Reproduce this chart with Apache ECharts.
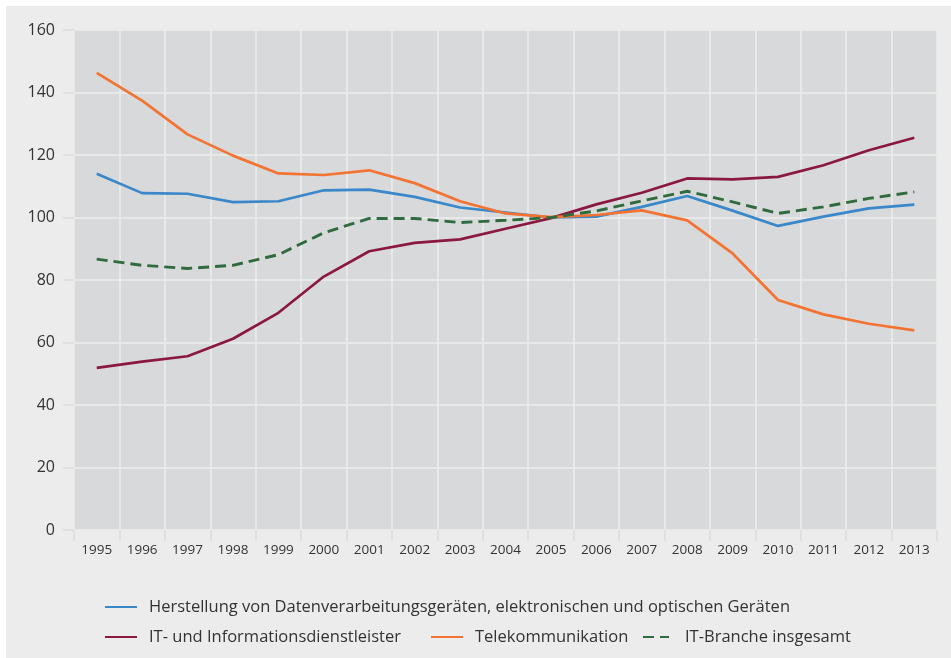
<!DOCTYPE html>
<html>
<head>
<meta charset="utf-8">
<script src="https://cdn.jsdelivr.net/npm/echarts@6/dist/echarts.min.js"></script>
<style>
  body { margin: 0; background: #ffffff; }
  #main { position: absolute; left: 6px; top: 6px; width: 945px; height: 652px; }
</style>
</head>
<body>
<div id="main"></div>
<script>
var years = ['1995', '1996', '1997', '1998', '1999', '2000', '2001', '2002', '2003', '2004',
             '2005', '2006', '2007', '2008', '2009', '2010', '2011', '2012', '2013'];

var herstellung = [114.0, 107.8, 107.6, 104.9, 105.2, 108.7, 108.9, 106.6, 103.2, 101.6,
                   100.0, 100.3, 103.4, 106.9, 102.2, 97.3, 100.3, 102.9, 104.1];
var itDienst = [51.9, 53.9, 55.6, 61.2, 69.5, 81.1, 89.2, 91.9, 93.0, 96.4,
                99.8, 104.2, 107.9, 112.5, 112.2, 113.0, 116.7, 121.5, 125.5];
var telekom = [146.3, 137.4, 126.6, 119.8, 114.1, 113.6, 115.1, 111.0, 105.2, 101.3,
               100.1, 100.8, 102.3, 99.1, 88.5, 73.6, 69.0, 66.0, 63.9];
var gesamt = [86.7, 84.7, 83.7, 84.7, 88.1, 95.1, 99.7, 99.7, 98.4, 99.1,
              100.0, 102.1, 105.3, 108.4, 105.0, 101.3, 103.4, 106.1, 108.2];

var names = [
    'Herstellung von Datenverarbeitungsgeräten, elektronischen und optischen Geräten',
    'IT- und Informationsdienstleister',
    'Telekommunikation',
    'IT-Branche insgesamt'
];

var myChart = echarts.init(document.getElementById('main'));

var fontFam = '"Open Sans", sans-serif';
var legendText = { fontSize: 16.5, lineHeight: 20, color: '#333333', fontFamily: fontFam, padding: [0, 0, 0, 7] };
// hide the symbol dot in the legend icons, keep the line
var legendItem = { opacity: 0, borderWidth: 0 };

option = {
    backgroundColor: '#ececec',
    animation: false,
    grid: {
        left: 68,
        right: 14,
        top: 24,
        bottom: 128,
        show: true,
        backgroundColor: '#d8d9db',
        borderWidth: 0
    },
    legend: [{
        data: [names[0], names[1]],
        orient: 'vertical',
        left: 93,
        top: 586,
        itemWidth: 32,
        itemHeight: 14,
        itemGap: 10,
        itemStyle: legendItem,
        textStyle: legendText
    }, {
        data: [names[2]],
        left: 419,
        top: 616,
        itemWidth: 32,
        itemHeight: 14,
        itemStyle: legendItem,
        textStyle: legendText
    }, {
        data: [names[3]],
        left: 631,
        top: 616,
        itemWidth: 26,
        itemHeight: 14,
        itemStyle: legendItem,
        textStyle: Object.assign({}, legendText, { padding: [0, 0, 0, 11] })
    }],
    xAxis: {
        type: 'category',
        data: years,
        boundaryGap: true,
        axisLine: { show: false },
        axisTick: { show: true, length: 11, lineStyle: { color: '#dcdcdc', width: 1.5 } },
        axisLabel: { margin: 13, fontSize: 13.5, color: '#333333', fontFamily: fontFam },
        splitLine: { show: true, interval: 0, lineStyle: { color: '#ececec', width: 1.5 } }
    },
    yAxis: {
        type: 'value',
        min: 0,
        max: 160,
        interval: 20,
        axisLine: { show: false },
        axisTick: { show: true, length: 11, lineStyle: { color: '#dcdcdc', width: 1.5 } },
        axisLabel: { margin: 19, fontSize: 16, color: '#333333', fontFamily: fontFam },
        splitLine: { show: true, lineStyle: { color: '#ececec', width: 1.5 } }
    },
    series: [{
        name: names[0],
        type: 'line',
        data: herstellung,
        symbol: 'none',
        lineStyle: { color: '#3a87c9', width: 2.7 },
        itemStyle: { color: '#3a87c9' }
    }, {
        name: names[1],
        type: 'line',
        data: itDienst,
        symbol: 'none',
        lineStyle: { color: '#8a1840', width: 2.7 },
        itemStyle: { color: '#8a1840' }
    }, {
        name: names[2],
        type: 'line',
        data: telekom,
        symbol: 'none',
        lineStyle: { color: '#f37332', width: 2.7 },
        itemStyle: { color: '#f37332' }
    }, {
        name: names[3],
        type: 'line',
        data: gesamt,
        symbol: 'none',
        lineStyle: { color: '#2f6b3c', width: 2.9, type: [11, 6] },
        itemStyle: { color: '#2f6b3c' }
    }]
};

myChart.setOption(option);
</script>
</body>
</html>
